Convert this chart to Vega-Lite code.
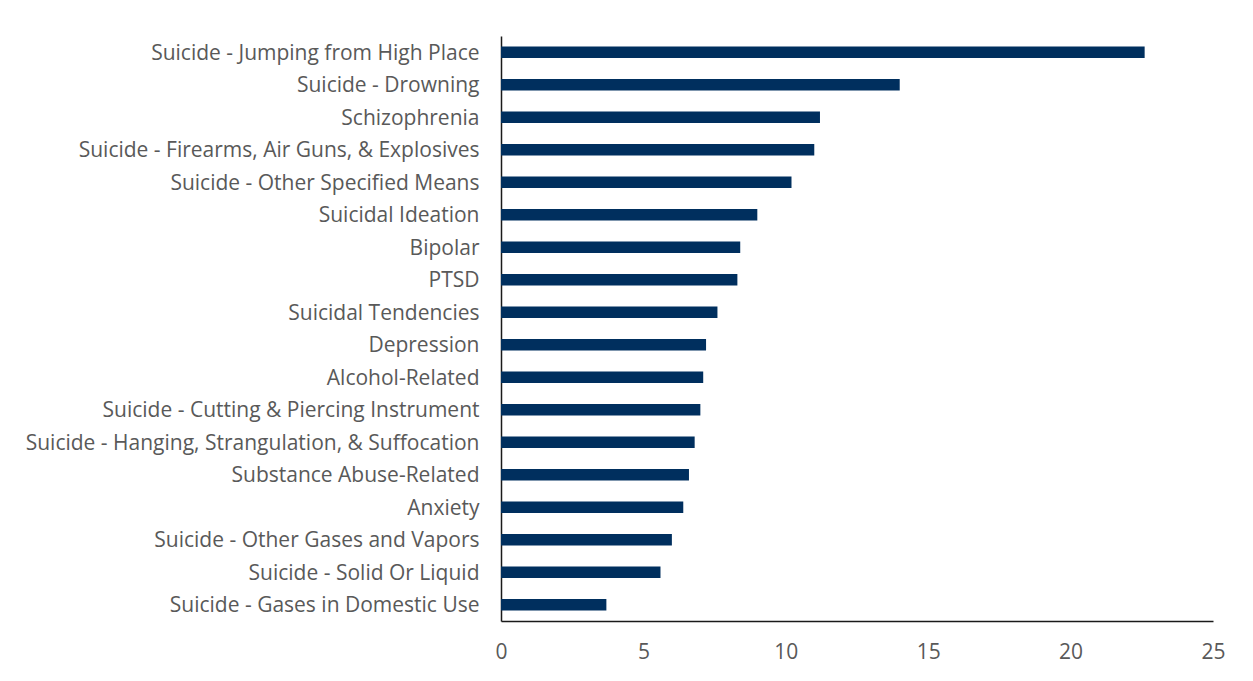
{
  "$schema": "https://vega.github.io/schema/vega-lite/v6.json",
  "autosize": "none",
  "width": 712,
  "height": 585,
  "padding": {"left": 501, "top": 36, "right": 40, "bottom": 60},
  "background": "white",
  "config": {"view": {"stroke": null}},
  "data": {
    "values": [
      {"cause": "Suicide - Jumping from High Place", "value": 22.6},
      {"cause": "Suicide - Drowning", "value": 14.0},
      {"cause": "Schizophrenia", "value": 11.2},
      {"cause": "Suicide - Firearms, Air Guns, & Explosives", "value": 11.0},
      {"cause": "Suicide - Other Specified Means", "value": 10.2},
      {"cause": "Suicidal Ideation", "value": 9.0},
      {"cause": "Bipolar", "value": 8.4},
      {"cause": "PTSD", "value": 8.3},
      {"cause": "Suicidal Tendencies", "value": 7.6},
      {"cause": "Depression", "value": 7.2},
      {"cause": "Alcohol-Related", "value": 7.1},
      {"cause": "Suicide - Cutting & Piercing Instrument", "value": 7.0},
      {"cause": "Suicide - Hanging, Strangulation, & Suffocation", "value": 6.8},
      {"cause": "Substance Abuse-Related", "value": 6.6},
      {"cause": "Anxiety", "value": 6.4},
      {"cause": "Suicide - Other Gases and Vapors", "value": 6.0},
      {"cause": "Suicide - Solid Or Liquid", "value": 5.6},
      {"cause": "Suicide - Gases in Domestic Use", "value": 3.7}
    ]
  },
  "mark": {"type": "bar", "color": "#002F5E"},
  "encoding": {
    "y": {
      "field": "cause",
      "type": "nominal",
      "sort": null,
      "scale": {"paddingInner": 0.64, "paddingOuter": 0.32},
      "axis": {
        "title": null,
        "ticks": false,
        "grid": false,
        "domain": true,
        "domainColor": "#1a1a1a",
        "domainWidth": 1.5,
        "labelFont": "Open Sans",
        "labelFontSize": 21,
        "labelColor": "#595959",
        "labelPadding": 22,
        "labelOffset": 1.5,
        "labelLimit": 600
      }
    },
    "x": {
      "field": "value",
      "type": "quantitative",
      "scale": {"domain": [0, 25], "nice": false},
      "axis": {
        "title": null,
        "values": [0, 5, 10, 15, 20, 25],
        "ticks": false,
        "grid": false,
        "domain": true,
        "domainColor": "#1a1a1a",
        "domainWidth": 1.5,
        "labelFont": "Open Sans",
        "labelFontSize": 21,
        "labelColor": "#595959",
        "labelPadding": 20,
        "labelFlush": false
      }
    }
  }
}
